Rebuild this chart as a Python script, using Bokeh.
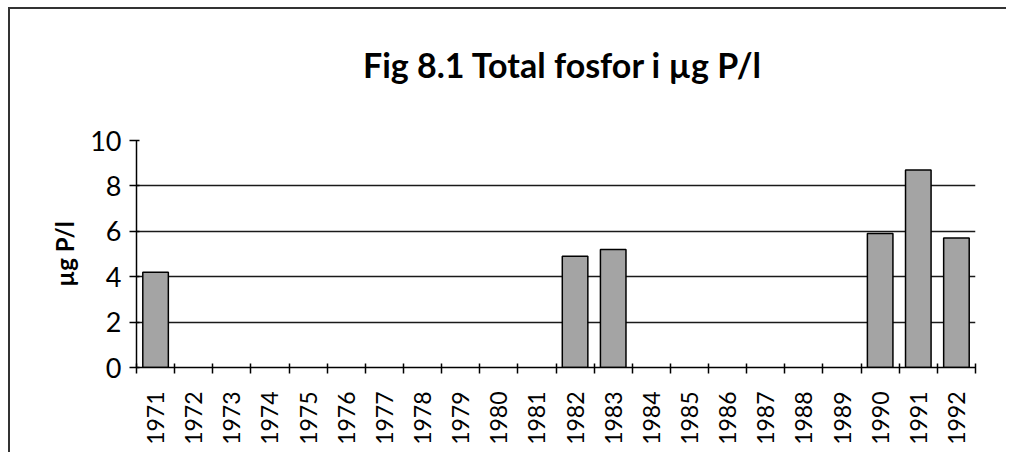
from bokeh.plotting import figure
from bokeh.models import Range1d, FixedTicker, ColumnDataSource, Div
from bokeh.layouts import column
from bokeh.embed import file_html
from bokeh.resources import INLINE

years = [str(y) for y in range(1971, 1993)]
vals = [4.2, None, None, None, None, None, None, None, None, None, None,
        4.9, 5.2, None, None, None, None, None, None, 5.9, 8.7, 5.7]
title_text = "Fig 8.1 Total fosfor i µg P/l"
y_label = "µg P/l"
y_ticks = [0, 2, 4, 6, 8, 10]

xs = [i for i, v in enumerate(vals) if v is not None]
tops = [v for v in vals if v is not None]
src = ColumnDataSource(dict(x=xs, top=tops))

FONT = "Lato"

title_div = Div(
    text=(f'<div style="box-sizing:border-box;width:996px;padding-top:36px;'
          f'padding-left:108px;text-align:center;'
          f'font-family:{FONT};font-weight:bold;font-size:34px;line-height:1.2;'
          f'color:black;white-space:nowrap;">{title_text}</div>'),
    width=996, height=80, margin=0)

p = figure(width=996, height=363, output_backend="svg", toolbar_location=None,
           x_range=Range1d(-0.5, len(years) - 0.5), y_range=Range1d(0, 10),
           min_border_left=126, min_border_right=31, min_border_top=51,
           min_border_bottom=85, margin=0)
p.outline_line_color = None
p.background_fill_color = "white"
p.border_fill_color = "white"

p.vbar(x="x", top="top", bottom=0, width=0.67, source=src,
       fill_color="#a4a4a4", line_color="black", line_width=1.5)

# grid
p.xgrid.visible = False
p.ygrid.ticker = FixedTicker(ticks=y_ticks)
p.ygrid.grid_line_color = "#1a1a1a"
p.ygrid.grid_line_width = 1.3

# x axis
centers = list(range(len(years)))
bounds = [i - 0.5 for i in range(len(years) + 1)]
p.xaxis.ticker = FixedTicker(ticks=centers, minor_ticks=bounds)
p.xaxis.major_label_overrides = {i: y for i, y in enumerate(years)}
p.xaxis.major_tick_line_color = None
p.xaxis.minor_tick_in = 4
p.xaxis.minor_tick_out = 6
p.xaxis.minor_tick_line_color = "black"
p.xaxis.minor_tick_line_width = 1.5
p.xaxis.axis_line_color = "black"
p.xaxis.axis_line_width = 1.5
p.xaxis.major_label_orientation = 1.5708
p.xaxis.major_label_text_font = FONT
p.xaxis.major_label_text_font_size = "23px"
p.xaxis.major_label_text_color = "black"
p.xaxis.major_label_standoff = 18

# y axis
p.yaxis.ticker = FixedTicker(ticks=y_ticks, minor_ticks=[])
p.yaxis.major_tick_in = 3
p.yaxis.major_tick_out = 7
p.yaxis.major_tick_line_color = "black"
p.yaxis.major_tick_line_width = 1.5
p.yaxis.minor_tick_line_color = None
p.yaxis.axis_line_color = "black"
p.yaxis.axis_line_width = 1.5
p.yaxis.major_label_text_font = FONT
p.yaxis.major_label_text_font_size = "27px"
p.yaxis.major_label_text_color = "black"
p.yaxis.major_label_standoff = 8
p.yaxis.axis_label = y_label
p.yaxis.axis_label_text_font = FONT
p.yaxis.axis_label_text_font_style = "bold"
p.yaxis.axis_label_text_font_size = "24px"
p.yaxis.axis_label_text_color = "black"
p.yaxis.axis_label_standoff = 8

layout = column(title_div, p, spacing=0,
                styles={"border-top": "2px solid #333",
                        "border-left": "2px solid #333",
                        "margin-left": "8px", "margin-top": "7px",
                        "background-color": "white"})

open("out.html", "w").write(file_html(layout, INLINE))
